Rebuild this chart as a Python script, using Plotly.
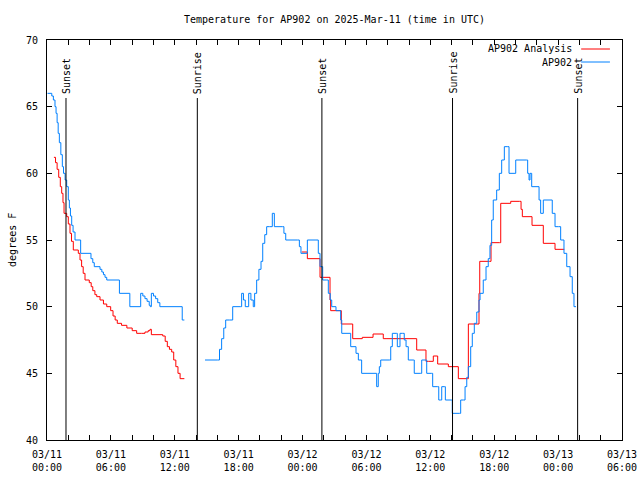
import pandas as pd
import plotly.graph_objects as go

BASE = pd.Timestamp("2025-03-11 00:00")

# Observed AP902 temperature (hours after 03/11 00:00 UTC, degrees F); None marks a data gap
obs_hours = [0.05, 0.45, 0.6, 0.75, 0.85, 0.95, 1.05, 1.16, 1.3, 1.44, 1.55, 1.7, 1.85, 2.0, 2.1, 2.2,
             2.32, 2.45, 2.63, 3.16, 4.13, 4.3, 4.44, 4.98, 5.15, 5.3, 5.45, 5.61, 6.8, 7.78, 8.8,
             9.0, 9.2, 9.4, 9.6, 9.7, 9.8, 10.0, 10.2, 10.4, 10.6, 12.7, 12.9,
             13.8,
             14.84, 16.03, 16.2, 16.4, 16.6, 16.78, 17.12, 17.44, 18.15, 18.28, 18.45, 18.62, 18.94,
             19.15, 19.37, 19.5, 19.69, 19.9, 20.1, 20.26, 20.45, 20.63, 20.88, 21.16, 21.35, 22.1,
             22.25, 22.42, 23.51, 23.7, 23.85, 24.32, 24.45, 25.26, 25.48, 25.64, 25.89, 26.27,
             26.42, 26.6, 26.74, 27.05, 27.14, 27.58, 27.68, 28.46, 28.52, 28.93, 29.02, 29.24,
             29.49, 29.55, 30.9, 30.96, 31.11, 31.21, 31.34, 32.15, 32.28, 32.43, 32.84, 32.9,
             33.15, 33.37, 33.55, 33.72, 33.93, 34.4, 34.49, 35.1, 35.19, 35.56, 35.66, 36.13,
             36.22, 36.69, 36.79, 36.97, 37.07, 37.31, 37.41, 38.01, 38.06, 38.72, 38.85, 39.1,
             39.26, 39.42, 39.57, 39.79, 39.94, 40.13, 40.36, 40.57, 40.67, 40.97, 41.23, 41.44,
             41.6, 41.76, 41.91, 42.23, 42.48, 42.7, 42.95, 43.27, 43.39, 43.86, 44.02, 45.05,
             45.14, 45.27, 45.36, 45.52, 45.83, 46.21, 46.36, 46.61, 47.24, 47.45, 47.71, 48.02,
             48.24, 48.55, 48.81, 49.12, 49.33, 49.49, 49.68]
obs_temps = [66, 65.8, 65.5, 65, 64.5, 63.8, 63, 62.3, 61.4, 60.5, 60, 59.5, 59, 58, 57.4, 56.8,
             56.1, 55.6, 55, 54, 53.6, 53.3, 53, 52.8, 52.6, 52.4, 52.2, 52, 51, 50, 51,
             50.8, 50.6, 50.4, 50.1, 50, 51, 50.8, 50.6, 50.3, 50, 49, 49,
             None,
             46, 46, 46.8, 47.6, 48.4, 49, 49, 50, 50, 51, 50.5, 50, 51,
             50.5, 50, 51, 52, 52.8, 53.4, 54.75, 55.4, 56, 56, 57, 56, 56,
             55.5, 55, 55, 54.5, 54, 54, 55, 55, 54, 53, 52, 52,
             51, 50.5, 50, 50, 49.7, 49, 48, 48, 47, 47, 46.5, 46,
             46, 45, 45, 44, 45, 45.5, 46, 46, 47, 48, 48, 47,
             48, 48, 47.5, 47, 46, 46, 45, 45, 46, 46, 45, 45,
             44, 44, 43, 43, 44, 44, 43, 43, 42, 42, 43, 43,
             44, 44.7, 45.5, 47, 48, 48.75, 49.6, 50.5, 51, 52, 53, 53.6,
             54.6, 56.5, 58, 58.75, 60, 61, 62, 62, 60, 60, 61, 61,
             60, 59.5, 60, 59, 59, 58, 57, 58, 58, 57, 56, 56,
             55, 54, 53, 52.25, 51, 50, 50]

# AP902 Analysis (hours after 03/11 00:00 UTC, degrees F); None marks a data gap
ana_hours = [0.65, 0.8, 0.95, 1.1, 1.25, 1.38, 1.5, 1.6, 1.85, 2.0, 2.16, 2.3, 2.47, 2.94, 3.1,
             3.25, 3.4, 3.57, 3.97, 4.15, 4.3, 4.5, 4.67, 4.98, 5.3, 5.61, 5.98, 6.2, 6.4, 6.6,
             7.0, 7.5, 8.0, 8.42, 8.89, 9.2, 9.5, 9.67, 9.8, 10.87, 11.1, 11.3, 11.5, 11.71,
             11.9, 12.1, 12.3, 12.5, 12.9,
             18.0,
             23.92, 24.45, 25.64, 26.58, 26.64, 27.64, 28.71, 29.61, 30.62, 31.58, 31.84, 34.72,
             35.59, 35.81, 36.28, 36.69, 37.69, 38.63, 39.47, 39.57, 40.57, 40.64, 41.54, 41.7,
             42.48, 42.61, 43.55, 44.36, 44.52, 44.64, 45.55, 46.61, 47.71, 48.58]
ana_temps = [61.2, 60.8, 60.3, 59.7, 59, 58.5, 57.8, 57, 56.75, 56.2, 55.5, 54.9, 54.25, 54.0, 53.5,
             53, 52.5, 52, 51.8, 51.5, 51.2, 50.9, 50.75, 50.5, 50.2, 50, 49.7, 49.3, 49, 48.75,
             48.6, 48.4, 48.2, 48, 48, 48.1, 48.2, 48.3, 47.9, 47.8, 47.4, 47, 46.8, 46.6,
             46.0, 45.5, 45.0, 44.6, 44.6,
             None,
             54.1, 53.6, 52.2, 50.5, 49.7, 48.7, 47.6, 47.7, 47.95, 47.6, 47.6, 46.75,
             45.9, 45.9, 46.3, 45.7, 45.5, 44.6, 44.6, 48.7, 51, 53.4, 53.4, 54.8,
             54.8, 57.75, 57.9, 57.9, 57.3, 56.75, 56.1, 54.75, 54.3, 54.3]

# Sun events (UTC)
sun_times = ["2025-03-11 01:47", "2025-03-11 14:07", "2025-03-12 01:49",
             "2025-03-12 14:05", "2025-03-13 01:50"]
sun_labels = ["Sunset", "Sunrise", "Sunset", "Sunrise", "Sunset"]

# Axis ticks
x_tick_hours = list(range(0, 55, 2))
x_label_every = 6
y_ticks = [40, 45, 50, 55, 60, 65, 70]

title_text = "Temperature for AP902 on 2025-Mar-11 (time in UTC)"
series_names = ["AP902 Analysis", "AP902"]
series_colors = ["#ff0000", "#0080ff"]

FONT = "DejaVu Sans Mono"


def to_time(hours):
    return [None if h is None else BASE + pd.Timedelta(hours=h) for h in hours]


fig = go.Figure()
fig.add_trace(go.Scatter(x=to_time(ana_hours), y=ana_temps, mode="lines",
                         line=dict(color=series_colors[0], width=1, shape="hv"),
                         name=series_names[0], showlegend=False, connectgaps=False))
fig.add_trace(go.Scatter(x=to_time(obs_hours), y=obs_temps, mode="lines",
                         line=dict(color=series_colors[1], width=1, shape="hv"),
                         name=series_names[1], showlegend=False, connectgaps=False))

# sunrise / sunset markers
for t, lab in zip(sun_times, sun_labels):
    fig.add_shape(type="line", xref="x", yref="y domain", x0=t, x1=t, y0=0, y1=0.855,
                  line=dict(color="black", width=1))
    fig.add_annotation(x=t, xref="x", y=0.86, yref="y domain", text=lab, textangle=-90,
                       showarrow=False, xanchor="center", yanchor="bottom",
                       font=dict(family=FONT, size=10, color="black"))

# custom legend (text right-aligned, sample line to the right)
leg_y = [0.9775, 0.945]
for name, col, ly in zip(series_names, series_colors, leg_y):
    fig.add_annotation(x=0.9165, xref="paper", y=ly, yref="paper", text=name,
                       showarrow=False, xanchor="right", yanchor="middle",
                       font=dict(family=FONT, size=10, color="black"))
    fig.add_shape(type="line", xref="paper", yref="paper", x0=0.929, x1=0.979, y0=ly, y1=ly,
                  line=dict(color=col, width=1))

tickvals = [BASE + pd.Timedelta(hours=h) for h in x_tick_hours]
ticktext = [(BASE + pd.Timedelta(hours=h)).strftime("%m/%d<br>%H:%M") if h % x_label_every == 0 else ""
            for h in x_tick_hours]

fig.update_layout(
    width=640, height=480,
    margin=dict(l=47, r=18, t=40, b=40, autoexpand=False),
    paper_bgcolor="white", plot_bgcolor="white",
    font=dict(family=FONT, size=10, color="black"),
    title=dict(text=title_text, x=0.5, xanchor="center", xref="paper",
               y=1 - 19 / 480, yref="container", yanchor="middle",
               font=dict(family=FONT, size=10, color="black")),
    showlegend=False,
)
fig.update_xaxes(
    range=[BASE, BASE + pd.Timedelta(hours=54)], automargin=False,
    tickmode="array", tickvals=tickvals, ticktext=ticktext,
    ticks="inside", ticklen=5, tickcolor="black", tickwidth=1,
    showline=True, linecolor="black", linewidth=1, mirror="ticks",
    showgrid=False, zeroline=False,
    tickfont=dict(family=FONT, size=10, color="black"),
    ticklabelstandoff=5,
)
fig.update_yaxes(
    range=[40, 70], tickmode="array", tickvals=y_ticks, automargin=False,
    ticks="inside", ticklen=5, tickcolor="black", tickwidth=1,
    showline=True, linecolor="black", linewidth=1, mirror="ticks",
    showgrid=False, zeroline=False,
    tickfont=dict(family=FONT, size=10, color="black"),
    ticklabelstandoff=6,
)
fig.add_annotation(x=-0.061, xref="paper", y=0.5, yref="paper", text="degrees F", textangle=-90,
                   showarrow=False, xanchor="center", yanchor="middle",
                   font=dict(family=FONT, size=10, color="black"))

fig.write_html("out.html",
               config={"displayModeBar": False},
               post_script="document.body.style.margin='0';document.body.style.overflow='hidden';")
